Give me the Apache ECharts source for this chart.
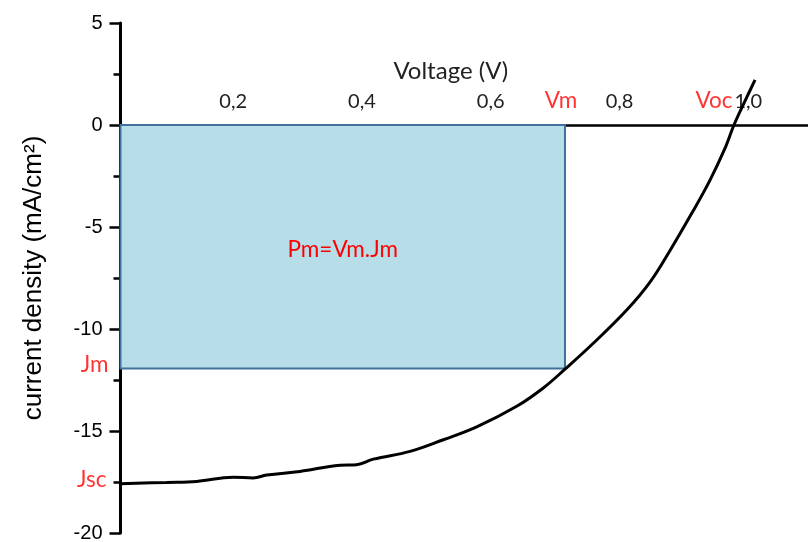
<!DOCTYPE html>
<html>
<head>
<meta charset="utf-8">
<script src="https://cdn.jsdelivr.net/npm/echarts@6/dist/echarts.min.js"></script>
<style>html,body{margin:0;padding:0;background:#fff;}#c{width:808px;height:542px;}</style>
</head>
<body>
<div id="c"></div>
<script>
// Voltage (V) and current density (mA/cm²) read from the J–V curve
const voltage = [0.0249, 0.0966, 0.1432, 0.2001, 0.2311, 0.2520, 0.3037, 0.3658, 0.3918, 0.4176, 0.4746, 0.5263, 0.5782, 0.6403, 0.6816, 0.7153, 0.7593, 0.8112, 0.8474, 0.8785, 0.9122, 0.9406, 0.9650, 0.9778, 0.9976, 1.0105];
const current = [-17.58, -17.52, -17.47, -17.27, -17.30, -17.16, -16.98, -16.68, -16.65, -16.38, -16.00, -15.43, -14.80, -13.79, -12.89, -11.97, -10.70, -9.07, -7.70, -6.15, -4.33, -2.70, -1.06, 0.0, 1.35, 2.21];
const xTicks = [0.2, 0.4, 0.6, 0.8, 1.0];
const xTickLabels = ['0,2', '0,4', '0,6', '0,8', '1,0'];
const yTicks = [5, 0, -5, -10, -15, -20];
const Vmin = 0.0249, Vmax = 1.0928;
const Vm = 0.7153, Jm = -11.94;
const Voc = 0.978, Jsc = -17.58;

const chart = echarts.init(document.getElementById('c'), null, {renderer: 'canvas'});
const red = '#ff0000';
const calibriLike = 'Lato, "Open Sans", sans-serif';
const arial = '"Liberation Sans", Arial, sans-serif';
chart.setOption({
  animation: false,
  backgroundColor: '#ffffff',
  grid: {left: 120.5, right: 0, top: 23, bottom: 9, outerBoundsMode: 'none', containLabel: false},
  xAxis: {
    type: 'value', min: Vmin, max: Vmax, position: 'top', offset: -102,
    axisLine: {onZero: false, lineStyle: {color: '#000', width: 2.5}},
    axisTick: {show: false},
    splitLine: {show: false},
    axisLabel: {
      margin: 13, fontSize: 20, color: '#222', fontFamily: calibriLike,
      formatter: v => { const i = xTicks.findIndex(t => Math.abs(t - v) < 1e-6); return i >= 0 ? xTickLabels[i] : ''; }
    },
    name: 'Voltage (V)', nameLocation: 'middle', nameGap: 42,
    nameTextStyle: {fontSize: 24, color: '#222', fontFamily: calibriLike, padding: [0, 27, 0, 0]}
  },
  yAxis: {
    type: 'value', min: -20, max: 5, interval: 5,
    axisLine: {onZero: false, lineStyle: {color: '#000', width: 3}},
    axisTick: {show: true, length: 11, lineStyle: {width: 2.5, color: '#000'}},
    minorTick: {show: true, splitNumber: 2, length: 7, lineStyle: {width: 2.5, color: '#000'}},
    splitLine: {show: false},
    axisLabel: {margin: 18, fontSize: 20, color: '#000', fontFamily: arial,
      formatter: v => yTicks.includes(v) ? String(v) : ''},
    name: 'current density (mA/cm²)', nameLocation: 'middle', nameGap: 74,
    nameTextStyle: {fontSize: 26, color: '#000', fontFamily: arial}
  },
  series: [
    {
      type: 'line', name: 'J-V',
      data: voltage.map((v, i) => [v, current[i]]),
      symbol: 'none', smooth: 0.4,
      lineStyle: {color: '#000', width: 3},
      z: 5,
      markArea: {
        silent: true,
        itemStyle: {color: '#b7dde8', borderColor: '#41719c', borderWidth: 2},
        label: {show: true, position: 'inside', formatter: 'Pm=Vm.Jm', color: red, fontSize: 22.5, fontFamily: calibriLike, offset: [0, 3]},
        data: [[{coord: [Vmin, 0]}, {coord: [Vm, Jm]}]]
      }
    },
    {
      type: 'scatter', name: 'labels', symbolSize: 0, z: 6,
      label: {show: true, color: red, fontSize: 22.5, fontFamily: calibriLike, formatter: p => p.name},
      data: [
        {name: 'Vm', value: [Vm, 0], label: {position: 'top', distance: 13, offset: [-4, 0]}},
        {name: 'Voc', value: [Voc, 0], label: {position: 'top', distance: 13, offset: [-20, 0]}},
        {name: 'Jm', value: [Vmin, Jm], label: {position: 'left', distance: 12, offset: [0, -4]}},
        {name: 'Jsc', value: [Vmin, Jsc], label: {position: 'left', distance: 14, offset: [0, -4]}}
      ]
    }
  ]
});
</script>
</body>
</html>
